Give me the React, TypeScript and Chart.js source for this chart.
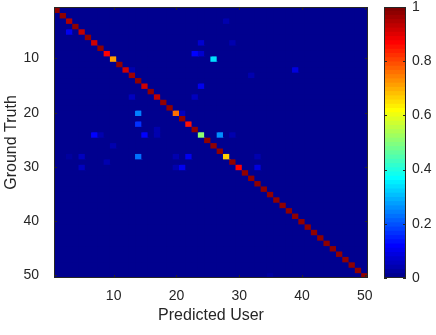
import React, { useEffect, useRef } from 'react';
import { Chart, registerables } from 'chart.js';

Chart.register(...registerables);

const FONT = '"Liberation Sans", Arial, Helvetica, sans-serif';
const TEXT = '#262626';

// Categories (users 1..50)
const userLabels = [
  '1','2','3','4','5','6','7','8','9','10',
  '11','12','13','14','15','16','17','18','19','20',
  '21','22','23','24','25','26','27','28','29','30',
  '31','32','33','34','35','36','37','38','39','40',
  '41','42','43','44','45','46','47','48','49','50',
];
const xTickLabels = ['10', '20', '30', '40', '50'];
const yTickValues = [10, 20, 30, 40, 50];
const colorbarTicks = [0, 0.2, 0.4, 0.6, 0.8, 1];

// Diagonal (correct) rates, row i = ground truth user i
const diagValues = [
  0.98, 0.98, 0.95, 0.97, 0.93, 0.97, 0.92, 0.97, 0.86, 0.71,
  0.97, 0.91, 0.96, 0.97, 0.92, 0.98, 0.93, 0.97, 0.98, 0.75,
  0.97, 0.85, 0.97, 0.51, 0.97, 0.97, 0.97, 0.66, 0.97, 0.86,
  0.98, 0.98, 0.98, 0.98, 0.98, 0.98, 0.98, 0.98, 0.98, 0.98,
  0.98, 0.98, 0.98, 0.98, 0.98, 0.98, 0.98, 0.98, 0.98, 0.98,
];

// Off-diagonal confusions: ground-truth row, predicted column, rate
const offRows = [3, 5, 7, 7, 9, 9, 10, 12, 12, 13, 15, 17, 17, 20, 20, 22, 23, 24, 24, 24, 24, 24, 24, 26, 28, 28, 28, 28, 28, 28, 29, 30, 30, 30, 30, 50];
const offCols = [28, 3, 24, 29, 23, 24, 26, 39, 13, 32, 24, 13, 23, 14, 21, 14, 17, 7, 8, 15, 17, 27, 29, 10, 3, 5, 14, 20, 22, 33, 9, 5, 20, 21, 33, 35];
const offVals = [0.04, 0.1, 0.07, 0.04, 0.12, 0.07, 0.33, 0.08, 0.04, 0.04, 0.1, 0.05, 0.05, 0.24, 0.06, 0.17, 0.04, 0.12, 0.04, 0.12, 0.04, 0.26, 0.04, 0.04, 0.03, 0.05, 0.22, 0.04, 0.1, 0.04, 0.04, 0.05, 0.04, 0.1, 0.08, 0.03];

// MATLAB jet(64) colormap
function jetU(k: number): number {
  if (k >= 1 && k <= 16) return k / 16;
  if (k >= 17 && k <= 31) return 1;
  if (k >= 32 && k <= 47) return (48 - k) / 16;
  return 0;
}
function jet(v: number): string {
  const i = Math.min(63, Math.max(0, Math.floor(v * 64))) + 1;
  const r = Math.round(jetU(i - 24) * 255);
  const g = Math.round(jetU(i - 8) * 255);
  const b = Math.round(jetU(i + 8) * 255);
  return `rgb(${r},${g},${b})`;
}

function buildMatrix(): number[][] {
  const m: number[][] = userLabels.map(() => userLabels.map(() => 0));
  diagValues.forEach((v, i) => { m[i][i] = v; });
  offRows.forEach((r, k) => { m[r - 1][offCols[k] - 1] = offVals[k]; });
  return m;
}

function zeroPad(s: any) {
  s.paddingTop = 0;
  s.paddingBottom = 0;
  s.paddingLeft = 0;
  s.paddingRight = 0;
}

const frameMatrix = {
  id: 'frameMatrix',
  afterDraw(chart: any) {
    const { ctx, chartArea: a, scales } = chart;
    const xs = scales.x;
    const ys = scales.y;
    ctx.save();
    ctx.strokeStyle = TEXT;
    ctx.lineWidth = 1;
    ctx.strokeRect(Math.round(a.left) + 0.5, Math.round(a.top) + 0.5, Math.round(a.right - a.left) - 1, Math.round(a.bottom - a.top) - 1);
    const tl = 3;
    ctx.beginPath();
    xTickLabels.forEach((lab) => {
      const px = Math.round(xs.getPixelForValue(userLabels.indexOf(lab))) + 0.5;
      ctx.moveTo(px, a.bottom); ctx.lineTo(px, a.bottom - tl);
      ctx.moveTo(px, a.top); ctx.lineTo(px, a.top + tl);
    });
    yTickValues.forEach((v) => {
      const py = Math.round(ys.getPixelForValue(v)) + 0.5;
      ctx.moveTo(a.left, py); ctx.lineTo(a.left + tl, py);
      ctx.moveTo(a.right, py); ctx.lineTo(a.right - tl, py);
    });
    ctx.stroke();
    ctx.restore();
  },
};

const frameBar = {
  id: 'frameBar',
  afterDraw(chart: any) {
    const { ctx, chartArea: a, scales } = chart;
    const ys = scales.y;
    ctx.save();
    ctx.strokeStyle = TEXT;
    ctx.lineWidth = 1;
    ctx.strokeRect(Math.round(a.left) + 0.5, Math.round(a.top) + 0.5, Math.round(a.right - a.left) - 1, Math.round(a.bottom - a.top) - 1);
    ctx.beginPath();
    colorbarTicks.forEach((v) => {
      const py = Math.round(ys.getPixelForValue(v)) + 0.5;
      ctx.moveTo(a.right, py); ctx.lineTo(a.right - 3, py);
      ctx.moveTo(a.left, py); ctx.lineTo(a.left + 3, py);
    });
    ctx.stroke();
    ctx.restore();
  },
};

export default function App() {
  const mRef = useRef<HTMLCanvasElement>(null);
  const cRef = useRef<HTMLCanvasElement>(null);

  useEffect(() => {
    document.body.style.margin = '0';
    const matrix = buildMatrix();
    const datasets = matrix.map((row, ri) => ({
      label: userLabels[ri],
      data: userLabels.map(() => [ri + 1 - 0.5, ri + 1 + 0.5]),
      backgroundColor: row.map((v) => jet(v)),
      borderWidth: 0,
      inflateAmount: 0.6,
      barPercentage: 1,
      categoryPercentage: 1,
      grouped: false,
    }));

    const m = new Chart(mRef.current as HTMLCanvasElement, {
      type: 'bar',
      data: { labels: userLabels, datasets: datasets as any },
      options: {
        responsive: false,
        animation: false,
        devicePixelRatio: 1,
        events: [],
        layout: { autoPadding: false, padding: { top: 7, right: 68, left: 0, bottom: 0 } },
        plugins: { legend: { display: false }, tooltip: { enabled: false } },
        scales: {
          x: {
            type: 'category',
            offset: true,
            grid: { display: false, drawTicks: false },
            border: { display: false },
            ticks: {
              autoSkip: false,
              maxRotation: 0,
              minRotation: 0,
              padding: 10,
              color: TEXT,
              font: { family: FONT, size: 14 },
              callback: (_v: any, i: number) => (xTickLabels.includes(userLabels[i]) ? userLabels[i] : ''),
            },
            title: {
              display: true,
              text: 'Predicted User',
              color: TEXT,
              font: { family: FONT, size: 16 },
              padding: { top: 0, bottom: 10 },
            },
            afterFit: (s: any) => { s.height = 57; zeroPad(s); },
          },
          y: {
            type: 'linear',
            reverse: true,
            min: 0.5,
            max: 50.5,
            grid: { display: false, drawTicks: false },
            border: { display: false },
            afterBuildTicks: (s: any) => { s.ticks = yTickValues.map((v) => ({ value: v })); },
            ticks: {
              padding: 15,
              color: TEXT,
              font: { family: FONT, size: 14 },
              callback: (v: any) => String(v),
            },
            title: {
              display: true,
              text: 'Ground Truth',
              color: TEXT,
              font: { family: FONT, size: 16 },
              padding: { top: 2, bottom: 0 },
            },
            afterFit: (s: any) => { s.width = 54; zeroPad(s); },
          },
        },
      } as any,
      plugins: [frameMatrix],
    });

    const cbDatasets = Array.from({ length: 64 }, (_, k) => ({
      label: 'c' + k,
      data: [[k / 64, (k + 1) / 64]],
      backgroundColor: jet((k + 0.5) / 64),
      borderWidth: 0,
      inflateAmount: 0.6,
      barPercentage: 1,
      categoryPercentage: 1,
      grouped: false,
    }));

    const c = new Chart(cRef.current as HTMLCanvasElement, {
      type: 'bar',
      data: { labels: ['colorbar'], datasets: cbDatasets as any },
      options: {
        responsive: false,
        animation: false,
        devicePixelRatio: 1,
        events: [],
        layout: { autoPadding: false, padding: { top: 7, right: 0, left: 384, bottom: 57 } },
        plugins: { legend: { display: false }, tooltip: { enabled: false } },
        scales: {
          x: { display: false, offset: true },
          y: {
            position: 'right',
            min: 0,
            max: 1,
            grid: { display: false, drawTicks: false },
            border: { display: false },
            afterBuildTicks: (s: any) => { s.ticks = colorbarTicks.map((v) => ({ value: v })); },
            ticks: {
              padding: 6,
              color: TEXT,
              font: { family: FONT, size: 14 },
              callback: (v: any) => String(Math.round(Number(v) * 10) / 10),
            },
            afterFit: (s: any) => { s.width = 30; zeroPad(s); },
          },
        },
      } as any,
      plugins: [frameBar],
    });

    return () => { m.destroy(); c.destroy(); };
  }, []);

  return (
    <div style={{ position: 'relative', width: 436, height: 335, background: '#fff' }}>
      <canvas ref={mRef} width={436} height={335} style={{ position: 'absolute', left: 0, top: 0 }} />
      <canvas ref={cRef} width={436} height={335} style={{ position: 'absolute', left: 0, top: 0 }} />
    </div>
  );
}
